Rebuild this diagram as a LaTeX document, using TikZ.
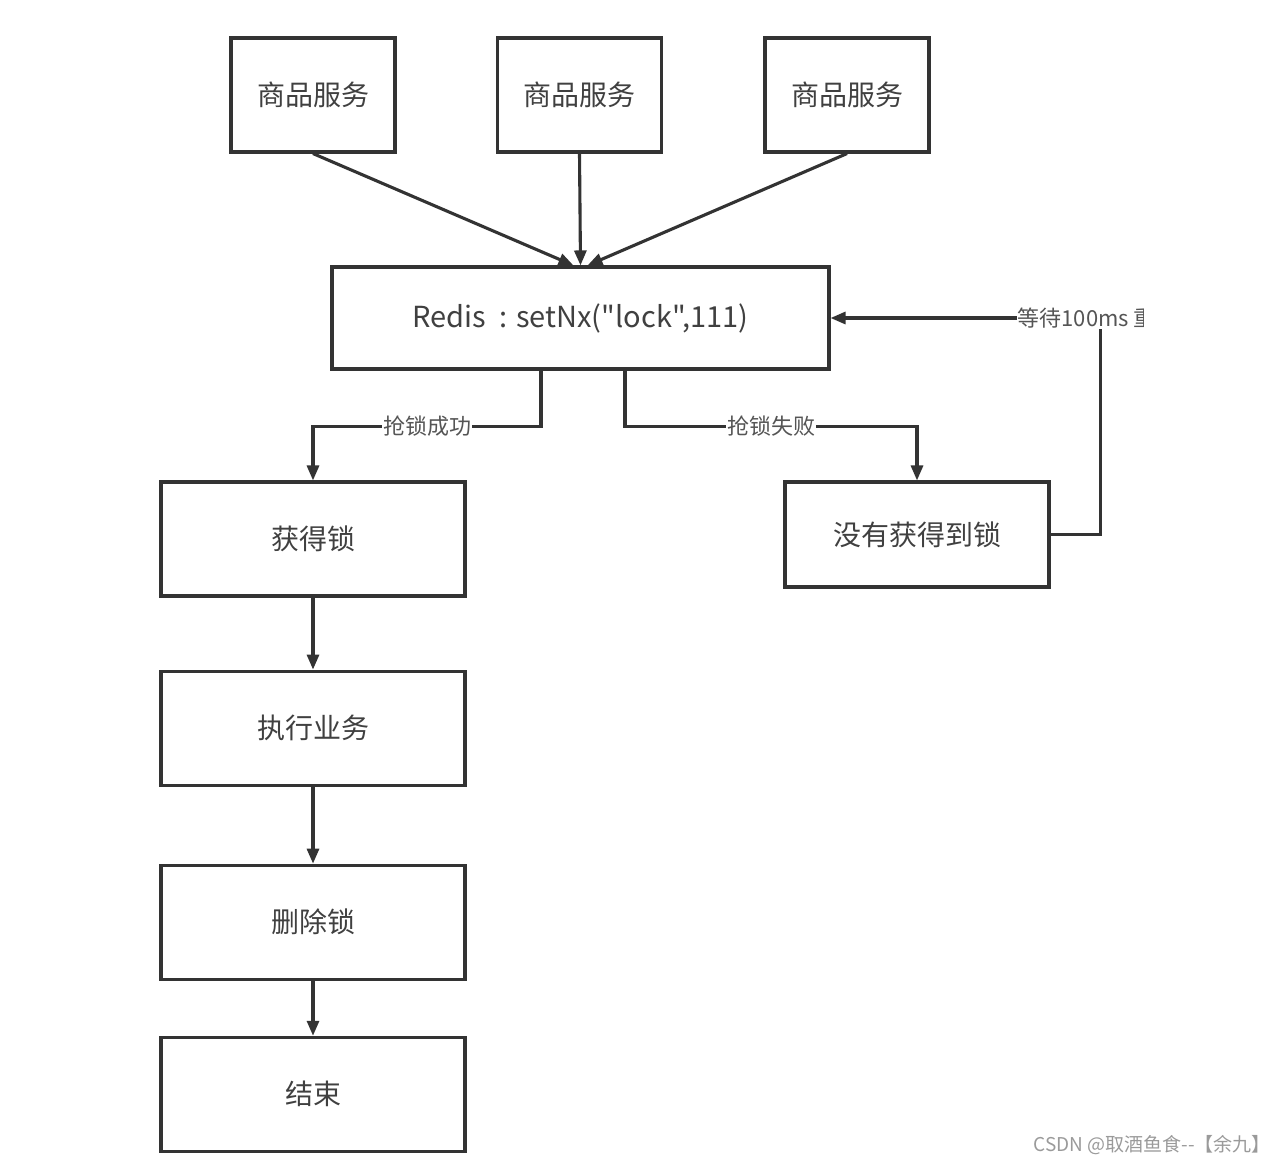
\documentclass[tikz,border=0pt]{standalone}
\usepackage{fontspec}
\setmainfont{Noto Sans CJK SC}
\newfontfamily\plainfont{Noto Sans CJK SC}
\usetikzlibrary{%
    arrows.meta,
    positioning
}
\definecolor{boxline}{HTML}{333333}
\definecolor{boxtext}{HTML}{404040}
\definecolor{labeltext}{HTML}{555555}
\definecolor{marktext}{HTML}{9A9A9A}
\tikzset{headarrow/.style = {-{Triangle[length=15pt,width=12pt]}, draw=boxline, line width=3.1pt}}
\tikzset{box/.style = {draw=boxline, line width=3.1pt, text=boxtext, inner sep=0pt,
                       font=\fontsize{28}{32}\selectfont}}
\tikzset{topbox/.style = {box, minimum width=164pt, minimum height=114pt}}
\tikzset{stepbox/.style = {box, minimum width=304pt, minimum height=114pt}}
\tikzset{edgelabel/.style = {fill=white, text=labeltext, inner sep=1pt,
                             font=\fontsize{22}{24}\selectfont}}

\begin{document}
\begin{tikzpicture}[x=1pt,y=-1pt]
    \useasboundingbox (0,0) rectangle (1282,1165);

    \node[topbox] (S1) at (313,95) {商品服务};
    \node[topbox] (S2) at (579.5,95) {商品服务};
    \node[topbox] (S3) at (847,95) {商品服务};
    \node[box, minimum width=497pt, minimum height=102pt, font=\plainfont\fontsize{29}{32}\selectfont]
        (R) at (580.5,318) {Redis \ : setNx("lock",111)};
    \node[stepbox] (G) at (313,539) {获得锁};
    \node[stepbox] (X) [below=72pt of G] {执行业务};
    \node[stepbox] (D) [below=77pt of X] {删除锁};
    \node[stepbox] (E) [below=55pt of D] {结束};
    \node[box, minimum width=264pt, minimum height=105pt] (N) at (917,534.5) {没有获得到锁};

    \draw[headarrow] (S1.south) -- ([xshift=-7pt]R.north);
    \draw[headarrow] (S2.south) -- (R.north);
    \draw[headarrow] (S3.south) -- ([xshift=7pt]R.north);

    \draw[headarrow] ([xshift=-39.5pt]R.south) -- ++(0,56) -| (G.north)
        node[edgelabel, pos=0.25] {抢锁成功};
    \draw[headarrow] ([xshift=44.5pt]R.south) -- ++(0,56) -| (N.north)
        node[edgelabel, pos=0.25] {抢锁失败};
    \draw[headarrow] (N.east) -- ++(50,0) coordinate (T) |- (R.east);
    \coordinate (W) at (T |- R.east);

    \draw[headarrow] (G) -- (X);
    \draw[headarrow] (X) -- (D);
    \draw[headarrow] (D) -- (E);

    % the label is cut at the right edge of the drawing
    \begin{scope}
        \clip (0,0) rectangle (1143,1165);
        \node[edgelabel, anchor=west] (L) at ([xshift=-84pt]W) {等待100ms 重};
    \end{scope}

    \node[text=marktext, anchor=east, inner sep=0pt, font=\plainfont\fontsize{19}{22}\selectfont]
        (M) at (1271,1145) {CSDN @取酒鱼食--【余九】};
\end{tikzpicture}
\end{document}
